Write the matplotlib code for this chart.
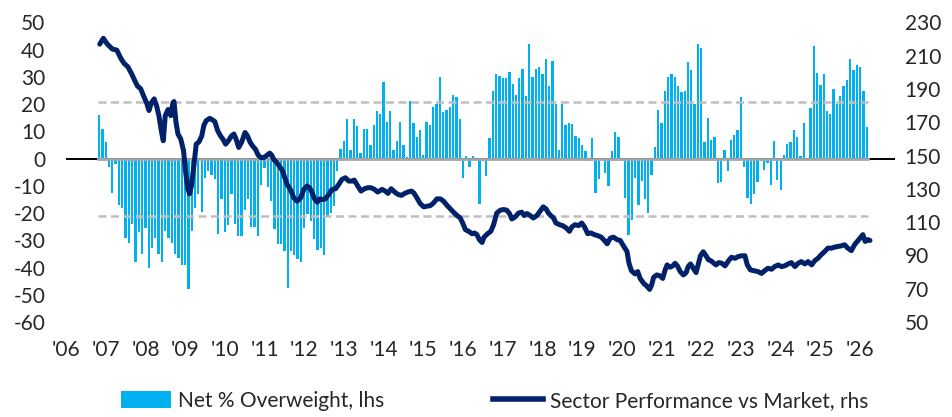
import numpy as np
import pandas as pd
import matplotlib
matplotlib.use("Agg")
import matplotlib.pyplot as plt
from matplotlib.patches import Patch
from matplotlib.lines import Line2D

plt.rcParams["font.family"] = ["Lato", "DejaVu Sans"]
plt.rcParams["axes.unicode_minus"] = False

BAR = "#00B0F0"
NAVY = "#012169"
GRID = "#BFBFBF"
TEXT = "#262626"

# monthly net % overweight, starting Nov 2006
first_month = "2006-11"
net_ow = [
    16, 11, 6, -3, -12.5, -2, -17, -18, -29, -31, -24, -38, -27, -35,
    -25.5, -40, -33, -29, -35, -38, -26.5, -29, -31, -35, -36.5, -39, -39, -48,
    -26.5, -18, -13, -19.5, -7, -4.5, -6, -7.5, -27.5, -15, -27, -24.5, -13, -24,
    -28.5, -28.5, -19, -15, -25, -25, -28.5, -9.5, -3.5, -10.5, -15.5, -26, -31.5, -31.5,
    -34, -47.5, -34, -35.5, -37, -38, -25.5, -20.5, -23, -29.5, -33.5, -33, -35.5, -21,
    -20, -17.5, -4.5, 3.5, 6.5, 14.5, 3, 14.5, 12, 2, 11, 11, 5, 12.5, 17.5,
    16.5, 28, 13.5, 17.5, 3, 6.5, 13.5, 5, 0.5, 21, 13, 8, 10.5, 1.5, 13.5,
    12.5, 19, 20, 30, 17, 18, 19, 23.5, 22.5, 14.5, -7, 1, -3, 1,
    0, -16.5, -1, -6.5, 7.5, 25, 31, 30.5, 29.5, 29.5, 32, 27.5, 23.5, 29.5, 33,
    23, 42, 30, 33, 33.5, 31, 36.5, 26.5, 36, 20, 3, 20, 12.5, 13,
    12.7, 8.3, 7.6, 5.1, 2.9, -1, 7.6, -12.5, -7.4, 0, -5.4, -10, 2.9, 9.6,
    7.8, -0.7, -14.5, -28, -22.5, -7.1, -17, -8.3, -14.7, -19.9, -6.1, 4.4, 17.9, 13.2,
    25, 30, 31, 30, 26.5, 24.5, 25, 35.5, 32.5, 20, 42, 40.5, 6, 15, 7,
    8, -9, -8.5, 3, -4.5, 7, 8.5, 10.5, 22.5, -3, -14.5, -16.5, -13, -8.5,
    -1, -4, -1.5, -9.5, 6.5, -8, -11.5, 1.5, 5.5, 6, 10.5, 8, 1, 13, 0, 18.5,
    41.5, 31.5, 27, 31, 17.5, 16.5, 25.5, 20, 23, 26.5, 29, 36.5, 32.5, 34.5,
    33.5, 25, 11.5,
]

# +/- band around the overweight series
band_upper = 20.8
band_lower = -21.2

# sector performance vs market (decimal year, index level)
perf_points = [
    (2006.85, 217.0), (2006.94, 220.5), (2007.04, 217.0), (2007.17, 214.0),
    (2007.28, 213.4), (2007.38, 208.5), (2007.46, 205.5), (2007.56, 203.3),
    (2007.65, 199.3), (2007.73, 195.2), (2007.80, 191.8), (2007.88, 190.2),
    (2007.95, 186.1), (2008.03, 181.7), (2008.09, 177.1), (2008.15, 181.7),
    (2008.22, 184.1), (2008.28, 180.1), (2008.34, 174.0), (2008.40, 165.0),
    (2008.45, 158.9), (2008.50, 174.0), (2008.57, 177.7), (2008.64, 174.0),
    (2008.69, 181.7), (2008.72, 182.5), (2008.77, 170.0), (2008.82, 163.0),
    (2008.89, 160.0), (2008.96, 153.0), (2009.01, 141.0), (2009.06, 131.0),
    (2009.11, 127.0), (2009.16, 132.0), (2009.22, 143.8), (2009.28, 156.9),
    (2009.35, 158.3), (2009.42, 161.9), (2009.47, 168.0), (2009.53, 171.0),
    (2009.62, 172.4), (2009.68, 171.6), (2009.75, 170.4), (2009.82, 165.0),
    (2009.89, 161.9), (2009.95, 160.0), (2010.02, 156.9), (2010.09, 158.9),
    (2010.17, 161.9), (2010.23, 163.0), (2010.29, 159.5), (2010.35, 154.9),
    (2010.42, 157.9), (2010.51, 163.9), (2010.57, 161.9), (2010.64, 157.9),
    (2010.71, 155.5), (2010.77, 153.9), (2010.84, 150.3), (2010.91, 148.8),
    (2010.98, 148.8), (2011.04, 149.8), (2011.13, 151.5), (2011.18, 150.3),
    (2011.24, 147.4), (2011.31, 145.8), (2011.38, 143.5), (2011.46, 140.5),
    (2011.49, 138.2), (2011.57, 132.7), (2011.65, 129.7), (2011.74, 124.6),
    (2011.82, 122.6), (2011.91, 124.6), (2011.99, 129.7), (2012.07, 131.7),
    (2012.14, 130.7), (2012.20, 127.6), (2012.26, 124.0), (2012.33, 122.0),
    (2012.39, 124.0), (2012.45, 123.6), (2012.53, 124.0), (2012.62, 126.7),
    (2012.70, 129.7), (2012.79, 130.1), (2012.87, 132.7), (2012.95, 135.7),
    (2013.04, 136.7), (2013.12, 134.7), (2013.21, 134.7), (2013.26, 135.3),
    (2013.35, 131.7), (2013.43, 128.7), (2013.52, 130.1), (2013.60, 130.7),
    (2013.68, 130.7), (2013.77, 129.7), (2013.85, 128.1), (2013.96, 129.7),
    (2014.04, 128.7), (2014.11, 127.3), (2014.19, 130.1), (2014.28, 128.1),
    (2014.36, 126.7), (2014.45, 126.1), (2014.53, 127.3), (2014.61, 128.1),
    (2014.70, 128.7), (2014.76, 127.6), (2014.84, 124.6), (2014.92, 121.2),
    (2015.01, 119.2), (2015.09, 119.6), (2015.18, 120.0), (2015.26, 121.6),
    (2015.34, 124.0), (2015.43, 124.0), (2015.51, 122.6), (2015.60, 120.0),
    (2015.68, 118.0), (2015.76, 116.0), (2015.85, 114.0), (2015.93, 112.5),
    (2015.99, 109.5), (2016.06, 105.5), (2016.14, 104.5), (2016.23, 103.0),
    (2016.29, 103.5), (2016.35, 102.5), (2016.41, 99.5), (2016.48, 97.8),
    (2016.53, 101.0), (2016.62, 103.1), (2016.70, 104.5), (2016.77, 108.5),
    (2016.85, 115.5), (2016.94, 117.2), (2017.02, 117.6), (2017.10, 117.2),
    (2017.17, 115.2), (2017.23, 111.9), (2017.31, 113.1), (2017.40, 115.5),
    (2017.48, 116.0), (2017.54, 114.0), (2017.61, 115.2), (2017.69, 114.0),
    (2017.77, 112.5), (2017.86, 114.0), (2017.94, 116.6), (2018.02, 119.2),
    (2018.09, 118.0), (2018.15, 115.5), (2018.21, 114.0), (2018.28, 112.5),
    (2018.34, 109.5), (2018.43, 108.5), (2018.51, 107.9), (2018.60, 106.5),
    (2018.68, 104.5), (2018.74, 107.1), (2018.82, 108.5), (2018.91, 107.9),
    (2018.99, 109.5), (2019.06, 107.1), (2019.14, 103.1), (2019.22, 103.5),
    (2019.31, 102.5), (2019.39, 101.9), (2019.48, 101.0), (2019.56, 99.0),
    (2019.63, 97.0), (2019.71, 100.4), (2019.79, 101.0), (2019.88, 99.5),
    (2019.96, 99.0), (2020.05, 95.4), (2020.13, 92.4), (2020.18, 85.3),
    (2020.24, 80.9), (2020.33, 78.9), (2020.40, 80.3), (2020.46, 76.2),
    (2020.55, 73.2), (2020.63, 71.6), (2020.70, 69.6), (2020.75, 72.2),
    (2020.80, 76.8), (2020.88, 78.3), (2020.96, 77.7), (2021.03, 76.2),
    (2021.09, 81.3), (2021.14, 84.3), (2021.21, 82.9), (2021.28, 83.7),
    (2021.34, 85.3), (2021.40, 83.7), (2021.47, 80.3), (2021.55, 78.3),
    (2021.62, 79.7), (2021.67, 83.3), (2021.73, 84.9), (2021.80, 82.3),
    (2021.87, 79.7), (2021.92, 84.3), (2021.98, 89.8), (2022.05, 92.2),
    (2022.12, 89.8), (2022.18, 87.4), (2022.24, 86.9), (2022.30, 85.7),
    (2022.37, 84.3), (2022.44, 85.7), (2022.52, 85.3), (2022.60, 83.7),
    (2022.69, 86.9), (2022.76, 88.9), (2022.85, 88.3), (2022.93, 89.3),
    (2023.01, 89.8), (2023.10, 89.8), (2023.16, 84.3), (2023.24, 81.3),
    (2023.32, 80.9), (2023.43, 80.3), (2023.52, 79.2), (2023.60, 80.9),
    (2023.68, 82.3), (2023.77, 81.7), (2023.85, 83.3), (2023.94, 84.3),
    (2024.02, 83.3), (2024.10, 83.7), (2024.19, 84.9), (2024.27, 85.7),
    (2024.36, 83.3), (2024.44, 85.3), (2024.52, 86.3), (2024.61, 84.9),
    (2024.69, 86.3), (2024.78, 84.3), (2024.86, 86.9), (2024.94, 88.3),
    (2025.02, 90.4), (2025.11, 92.4), (2025.19, 94.4), (2025.28, 94.4),
    (2025.36, 95.0), (2025.44, 95.4), (2025.53, 95.8), (2025.61, 96.4),
    (2025.69, 94.4), (2025.78, 92.9), (2025.86, 96.4), (2025.95, 99.0),
    (2026.03, 101.4), (2026.07, 102.5), (2026.13, 98.4), (2026.20, 99.5),
    (2026.25, 99.0),
]

years = list(range(2006, 2027))
year_labels = [f"'{y % 100:02d}" for y in years]

months = pd.period_range(first_month, periods=len(net_ow), freq="M")
x_bar = months.year + (months.month - 1) / 12
perf_year, perf_value = np.array(perf_points).T

W, H = 953, 417
fig = plt.figure(figsize=(W / 100, H / 100), dpi=100)
ax = fig.add_axes([66 / W, 1 - 322 / H, (895 - 66) / W, (322 - 22.5) / H])
ax2 = ax.twinx()

x0, x1 = x_bar[0] - 0.03, x_bar[-1] + 0.03
ax.axhline(0, color="black", lw=1.4, zorder=1)
ax.bar(x_bar, net_ow, width=0.058, color=BAR, zorder=2)
ax.plot([x0, x1], [0, 0], color="#A6A6A6", lw=2.0, zorder=3)
for lvl in (band_upper, band_lower):
    ax.plot([x0, x1], [lvl, lvl], color=GRID, lw=1.8, ls=(0, (3.2, 1.8)), zorder=3)

ax2.plot(perf_year, perf_value, color=NAVY, lw=3.6, solid_joinstyle="round",
         solid_capstyle="round")

ax.set_xlim(2006.0, 2026.88)
ax.set_ylim(-60, 50)
ax2.set_ylim(50, 230)
ax.set_yticks(range(-60, 51, 10))
ax2.set_yticks(range(50, 231, 20))
ax.set_xticks(years)
ax.set_xticklabels(year_labels)

for a in (ax, ax2):
    for s in a.spines.values():
        s.set_visible(False)
ax.tick_params(axis="y", length=0, pad=15, labelsize=15, labelcolor=TEXT)
ax.tick_params(axis="x", length=0, pad=13, labelsize=15, labelcolor=TEXT)
ax2.tick_params(axis="y", length=0, pad=7, labelsize=15, labelcolor=TEXT)

handles = [Patch(facecolor=BAR, edgecolor="none"),
           Line2D([], [], color=NAVY, lw=4)]
labels = ["Net % Overweight, lhs", "Sector Performance vs Market, rhs"]
fig.legend(handles, labels, loc="center left", bbox_to_anchor=(102 / W, 1 - 401 / H),
           ncol=2, frameon=False, fontsize=15, handlelength=2.4, handleheight=0.9,
           handletextpad=0.35, columnspacing=5.2, labelcolor=TEXT)

fig.savefig("out.png", dpi=100)
